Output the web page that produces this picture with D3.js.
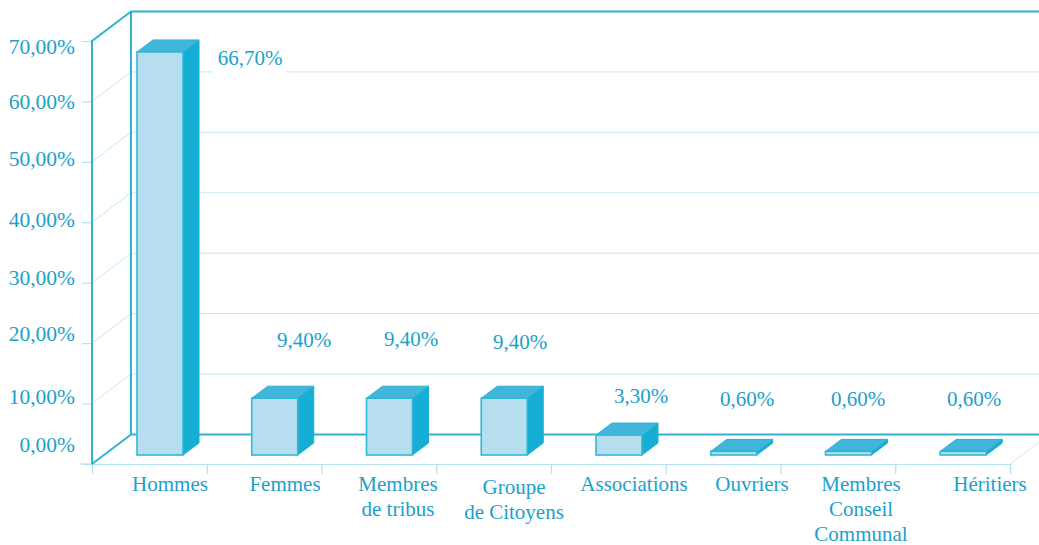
<!DOCTYPE html>
<html>
<head>
<meta charset="utf-8">
<script src="https://cdn.jsdelivr.net/npm/d3@7"></script>
<style>
    html, body { margin: 0; background: #fff; overflow: hidden; }
    text { font-family: "Liberation Serif", serif; font-size: 21px; fill: #1ba1ca; }
</style>
</head>
<body>
<div id="chart"></div>
<script>
const categories = ["Hommes", "Femmes", "Membres de tribus", "Groupe de Citoyens", "Associations", "Ouvriers", "Membres Conseil Communal", "Héritiers"];
const categoryLines = [["Hommes"], ["Femmes"], ["Membres", "de tribus"], ["Groupe", "de Citoyens"], ["Associations"], ["Ouvriers"], ["Membres", "Conseil", "Communal"], ["Héritiers"]];
const values = [66.7, 9.4, 9.4, 9.4, 3.3, 0.6, 0.6, 0.6];
const valueLabels = ["66,70%", "9,40%", "9,40%", "9,40%", "3,30%", "0,60%", "0,60%", "0,60%"];
const yTicks = [0, 10, 20, 30, 40, 50, 60, 70];

// labels in the original sit by hand, not on the ticks
const yLabelNudge = [-19, -7, -10, -5, -3, -3, 0, 6];
const valueLabelPos = [[250, 65], [304, 347], [411, 346], [520, 349], [641, 403], [747, 406], [858, 406], [974, 406]];
const catLabelCx = [170, 285, 398, 514, 634, 752, 861, 990];
const catLabelY = [491, 491, 491, 494, 491, 491, 491, 491];

const width = 1039, height = 545;
const depth = { x: 39, y: -29.5 };      // wall depth
const barDepth = { x: 16, y: -12 };
const barLift = 9;

const dark = "#2fb2d4", light = "#c4e7f3";

const svg = d3.select("#chart").append("svg")
    .attr("width", width)
    .attr("height", height);

const x = d3.scaleBand().domain(categories).range([92, 1010]);
const xEdges = d3.scaleLinear().domain([0, 8]).range([92, 1010]);
const y = d3.scaleLinear().domain([0, 70]).range([464, 41]);

// back wall and side wall gridlines
yTicks.filter(d => d > 0 && d < 70).forEach(d => {
    svg.append("line")
        .attr("x1", xEdges(0) + depth.x).attr("x2", width)
        .attr("y1", y(d) + depth.y).attr("y2", y(d) + depth.y)
        .attr("stroke", light);
    svg.append("line")
        .attr("x1", xEdges(0)).attr("x2", xEdges(0) + depth.x)
        .attr("y1", y(d)).attr("y2", y(d) + depth.y)
        .attr("stroke", light);
});

// floor, front edge and right edge
svg.append("line")
    .attr("x1", xEdges(8)).attr("y1", y(0))
    .attr("x2", xEdges(8) + depth.x).attr("y2", y(0) + depth.y)
    .attr("stroke", light);

const xAxis = d3.axisBottom(xEdges).tickValues(d3.range(0, 9)).tickSize(10).tickFormat("");
svg.append("g")
    .attr("transform", `translate(0,${y(0)})`)
    .call(xAxis)
    .call(g => g.selectAll("path, line").attr("stroke", "#b4e0ef").attr("stroke-width", 1.2));

svg.append("line")
    .attr("x1", 80).attr("x2", xEdges(0))
    .attr("y1", y(0)).attr("y2", y(0))
    .attr("stroke", "#b4e0ef").attr("stroke-width", 1.2);

const yAxis = d3.axisLeft(y).tickValues(yTicks).tickSize(10).tickPadding(7)
    .tickFormat(d => d3.format(".2f")(d).replace(".", ",") + "%");
svg.append("g")
    .attr("transform", `translate(${xEdges(0)},0)`)
    .call(yAxis)
    .call(g => g.select(".domain").remove())
    .call(g => g.selectAll("line").attr("stroke", "#b4e0ef").attr("stroke-width", 1.2))
    .call(g => g.selectAll("text")
        .attr("font-size", null)
        .attr("font-family", null)
        .style("fill", "#1ba1ca")
        .style("font-size", "21.5px")
        .attr("dy", "0.32em")
        .attr("y", (d, i) => yLabelNudge[i]));

// dark frame
const frame = d3.path();
frame.moveTo(xEdges(0), y(0));
frame.lineTo(xEdges(0), y(70));
frame.lineTo(xEdges(0) + depth.x, y(70) + depth.y);
frame.lineTo(width, y(70) + depth.y);
frame.moveTo(xEdges(0) + depth.x, y(70) + depth.y);
frame.lineTo(xEdges(0) + depth.x, y(0) + depth.y);
frame.lineTo(width, y(0) + depth.y);
frame.moveTo(xEdges(0) + depth.x, y(0) + depth.y);
frame.lineTo(xEdges(0), y(0));
svg.append("path")
    .attr("d", frame.toString())
    .attr("fill", "none")
    .attr("stroke", dark)
    .attr("stroke-width", 2);

// bars
const barW = 46;
const barX = d => x(d) + 45;
const bars = svg.selectAll("g.bar")
    .data(categories)
    .enter().append("g")
    .attr("class", "bar");

const base = y(0) - barLift;
const topY = (d, i) => y(values[i]) - barLift;

bars.append("path")   // side
    .attr("d", (d, i) => {
        const r = barX(d) + barW, t = topY(d, i);
        return `M${r},${t}L${r + barDepth.x},${t + barDepth.y}L${r + barDepth.x},${base + barDepth.y}L${r},${base}Z`;
    })
    .attr("fill", "#17aed6")
    .attr("stroke", "#17aed6");

bars.append("path")   // top
    .attr("d", (d, i) => {
        const l = barX(d), t = topY(d, i);
        return `M${l},${t}L${l + barDepth.x},${t + barDepth.y}L${l + barW + barDepth.x},${t + barDepth.y}L${l + barW},${t}Z`;
    })
    .attr("fill", "#42b5da")
    .attr("stroke", "#2fb2d4");

bars.append("rect")   // front
    .attr("x", d => barX(d))
    .attr("y", topY)
    .attr("width", barW)
    .attr("height", (d, i) => base - topY(d, i))
    .attr("fill", "#b6deef")
    .attr("stroke", "#2fb8d8")
    .attr("stroke-width", 1.6);

// white patch behind the first value label
svg.append("rect")
    .attr("x", 213).attr("y", 44)
    .attr("width", 73).attr("height", 30)
    .attr("fill", "#fff");

svg.selectAll("text.value")
    .data(valueLabels)
    .enter().append("text")
    .attr("class", "value")
    .attr("text-anchor", "middle")
    .attr("x", (d, i) => valueLabelPos[i][0])
    .attr("y", (d, i) => valueLabelPos[i][1])
    .text(d => d);

// category labels, one tspan per line
svg.selectAll("text.cat")
    .data(categoryLines)
    .enter().append("text")
    .attr("class", "cat")
    .attr("text-anchor", "middle")
    .attr("y", (d, i) => catLabelY[i])
    .each(function(lines, i) {
        d3.select(this).selectAll("tspan")
            .data(lines)
            .enter().append("tspan")
            .attr("x", catLabelCx[i])
            .attr("dy", (l, j) => j ? 24.75 : 0)
            .text(l => l);
    });
</script>
</body>
</html>
